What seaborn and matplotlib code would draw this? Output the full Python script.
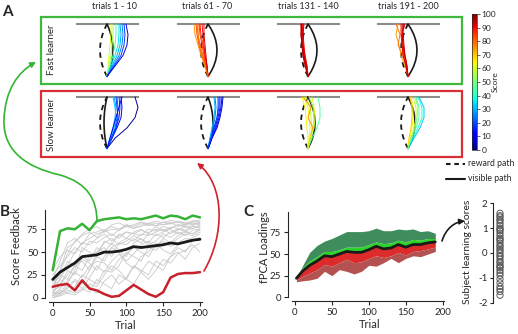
import numpy as np
import pandas as pd
import matplotlib
matplotlib.use("Agg")
import matplotlib.pyplot as plt
import seaborn as sns
from matplotlib.patches import Rectangle, FancyArrowPatch
from matplotlib.path import Path

sns.set_theme(style="ticks", rc={"axes.linewidth": 0.8, "xtick.major.width": 0.8,
                                 "ytick.major.width": 0.8, "xtick.major.size": 3,
                                 "ytick.major.size": 3, "axes.unicode_minus": False})
plt.rcParams["font.family"] = ["Lato", "DejaVu Sans"]

# ---- panel A : reaching paths, offsets (px) at fractions of path height
LEVELS = [0, 0.2, 0.4, 0.6, 0.8, 1.0]
BLOCK_TITLES = ["trials 1 - 10", "trials 61 - 70", "trials 131 - 140", "trials 191 - 200"]

FAST_SCORES = [[62, 55, 45, 35, 30, 25, 18, 8],
               [75, 80, 85, 88, 90, 83, 92, 78],
               [92, 95, 90, 94, 91, 96, 93],
               [74, 78, 90, 93, 88, 94, 91]]
FAST_X = [[[0, 1, 2, 3, 4, 4], [0, 2, 4, 5, 6, 6], [0, 3, 6, 8, 9, 9], [0, 4, 8, 11, 12, 12],
           [0, 5, 10, 13, 14, 13], [0, 6, 12, 15, 16, 15], [0, 7, 14, 17, 18, 17], [0, 8, 16, 20, 21, 19]],
          [[0, -3, -7, -10, -13, -14], [0, -2, -5, -8, -10, -11], [0, -2, -4, -6, -8, -9], [0, -1, -3, -5, -7, -8],
           [0, -1, -3, -4, -5, -6], [0, -2, -6, -9, -11, -12], [0, -1, -2, -3, -4, -4], [0, -3, -6, -8, -10, -10]],
          [[0, -2, -4, -5, -6, -6], [0, -2, -4, -6, -7, -7], [0, -1, -3, -4, -5, -5], [0, -2, -5, -6, -7, -6],
           [0, -1, -3, -5, -6, -5], [0, -3, -5, -6, -6, -7], [0, -2, -4, -5, -5, -4]],
          [[0, -3, -7, -9, -12, -10], [0, -2, -5, -10, -8, -12], [0, -2, -4, -5, -6, -6], [0, -1, -3, -5, -6, -4],
           [0, -2, -4, -6, -7, -7], [0, -1, -3, -4, -5, -5], [0, -2, -5, -6, -6, -3]]]

SLOW_SCORES = [[2, 10, 15, 22, 28, 33, 18, 12],
               [25, 20, 15, 10, 30, 8, 18],
               [62, 58, 65, 55, 75, 45, 60],
               [70, 65, 58, 45, 38, 32, 50]]
SLOW_X = [[[0, 8, 20, 28, 31, 28], [0, 5, 10, 14, 15, 14], [0, 4, 9, 12, 13, 12], [0, 4, 8, 10, 11, 10],
           [0, 3, 6, 8, 9, 7], [0, 3, 7, 9, 8, 6], [0, 5, 9, 11, 10, 9], [0, 3, 6, 9, 12, 15]],
          [[0, 2, 5, 7, 8, 7], [0, 3, 6, 9, 10, 10], [0, 3, 7, 10, 12, 12], [0, 4, 8, 11, 13, 14],
           [0, 2, 4, 6, 7, 6], [0, 4, 9, 12, 14, 15], [0, 3, 6, 9, 11, 11]],
          [[0, 1, 2, 1, 0, -4], [0, 2, 4, 3, 2, -2], [0, 0, -1, -2, -3, -6], [0, 3, 5, 6, 5, 1],
           [0, 2, 5, 0, 3, -5], [0, 4, 9, 12, 12, 10], [0, 2, 6, 7, 6, 4]],
          [[0, 1, 3, 4, 4, 2], [0, 2, 4, 5, 5, 3], [0, 3, 6, 8, 8, 5], [0, 4, 8, 11, 11, 8],
           [0, 5, 10, 14, 14, 10], [0, 6, 12, 16, 16, 11], [0, 3, 7, 9, 10, 7]]]

REWARD_BOW = -7
FAST_VISIBLE_BOW = [6, 9, 9, 9]
SLOW_VISIBLE_BOW = [-3, 5, 7, 7]
ARC_SHAPE = [0, 0.36, 0.64, 0.84, 0.96, 1, 0.96, 0.84, 0.64, 0.36, 0]
ARC_Y = [0, 0.1, 0.2, 0.3, 0.4, 0.5, 0.6, 0.7, 0.8, 0.9, 1.0]

# ---- panel B : score feedback
TRIALS = [0, 10, 20, 30, 40, 50, 60, 70, 80, 90, 100, 110, 120, 130, 140, 150, 160, 170, 180, 190, 200]
FAST_LEARNER = [30, 73, 76, 75, 81, 74, 84, 86, 87, 88, 86, 87, 86, 88, 90, 87, 90, 89, 86, 90, 88]
SLOW_LEARNER = [12, 14, 15, 8, 19, 10, 8, 4, 1, 2, 8, 14, 9, 4, 1, 6, 22, 26, 27, 27, 28]
MEAN_SCORE = [20, 28, 33, 38, 45, 46, 47, 50, 50, 51, 53, 56, 55, 56, 57, 58, 60, 59, 61, 63, 64]
GRAY = [
    [5, 20, 35, 50, 60, 65, 70, 72, 75, 74, 78, 76, 80, 79, 82, 80, 81, 83, 82, 84, 83],
    [10, 30, 55, 60, 70, 75, 78, 72, 80, 82, 78, 80, 83, 81, 84, 82, 85, 83, 80, 84, 85],
    [0, 5, 10, 20, 15, 30, 45, 40, 55, 60, 65, 62, 70, 68, 72, 75, 70, 74, 78, 76, 80],
    [15, 25, 20, 35, 40, 30, 50, 55, 45, 60, 58, 65, 60, 70, 68, 72, 75, 70, 73, 76, 78],
    [2, 8, 5, 12, 25, 20, 15, 30, 28, 35, 50, 45, 40, 55, 52, 60, 58, 65, 70, 68, 72],
    [20, 40, 60, 65, 58, 70, 72, 75, 68, 74, 80, 76, 78, 82, 79, 80, 83, 78, 81, 82, 80],
    [8, 12, 30, 25, 45, 40, 55, 50, 60, 52, 45, 60, 65, 58, 62, 70, 66, 72, 68, 74, 75],
    [0, 3, 8, 5, 10, 6, 20, 15, 10, 25, 20, 35, 30, 25, 40, 35, 45, 50, 42, 55, 60],
    [25, 35, 45, 55, 50, 62, 60, 66, 70, 65, 72, 70, 68, 75, 73, 78, 76, 80, 77, 79, 82],
    [5, 15, 25, 35, 42, 38, 30, 45, 55, 50, 40, 48, 58, 62, 55, 65, 60, 68, 72, 70, 74],
    [12, 20, 15, 30, 55, 50, 45, 62, 58, 70, 65, 72, 75, 70, 78, 74, 76, 80, 79, 82, 81],
    [0, 2, 5, 3, 8, 15, 12, 25, 35, 30, 20, 15, 28, 40, 35, 30, 45, 55, 50, 62, 65],
    [30, 45, 52, 48, 60, 58, 65, 70, 62, 68, 72, 70, 74, 71, 75, 73, 77, 76, 74, 78, 77],
    [3, 10, 18, 28, 22, 35, 40, 38, 30, 42, 48, 55, 50, 45, 58, 62, 56, 60, 65, 63, 66],
    [18, 22, 40, 35, 30, 45, 50, 60, 65, 58, 62, 68, 64, 60, 70, 66, 72, 75, 73, 70, 76],
    [6, 4, 12, 18, 10, 22, 35, 28, 40, 48, 38, 32, 45, 50, 60, 52, 48, 58, 62, 66, 70],
    [2, 6, 15, 8, 20, 12, 5, 18, 25, 15, 22, 35, 28, 20, 30, 42, 38, 48, 52, 58, 50],
    [10, 28, 48, 62, 68, 72, 66, 74, 78, 75, 80, 78, 82, 80, 79, 83, 81, 84, 82, 80, 83],
]

# ---- panel C : fPCA loadings
C_TRIALS = [2, 10, 20, 30, 40, 50, 60, 70, 80, 90, 100, 110, 120, 130, 140, 150, 160, 170, 180, 190]
C_MEAN = [22, 30, 37, 42, 48, 47, 50, 53, 52, 52, 55, 59, 56, 57, 61, 58, 61, 61, 63, 64]
C_UP1 = [23, 34, 42, 47, 53, 53, 55, 58, 58, 58, 61, 64, 62, 63, 66, 64, 67, 66, 68, 68]
C_UP2 = [22, 36, 52, 60, 65, 68, 72, 76, 76, 76, 77, 80, 77, 77, 79, 78, 79, 76, 77, 74]
C_LOW1 = [20, 24, 28, 32, 38, 36, 40, 44, 40, 41, 45, 48, 46, 48, 52, 49, 53, 54, 56, 58]
C_LOW2 = [18, 19, 20, 22, 30, 25, 32, 30, 27, 30, 37, 36, 40, 45, 40, 45, 48, 47, 50, 53]
LEARNING_SCORES = [1.6, 1.5, 1.45, 1.35, 1.3, 1.2, 1.1, 1.0, 0.95, 0.9, 0.8, 0.7, 0.6, 0.55,
                   0.5, 0.4, 0.3, 0.25, 0.15, 0.1, 0.0, -0.1, -0.15, -0.25, -0.35, -0.4, -0.5,
                   -0.55, -0.6, -0.7, -0.8, -0.9, -1.05, -1.2, -1.35, -1.45, -1.55, -1.7]

GREEN = "#36b336"
RED = "#c8202a"
W, H = 518, 334
cmap = plt.get_cmap("jet")

fig = plt.figure(figsize=(5.18, 3.34), dpi=100)


def px_axes(x0, y0, x1, y1):
    # axes from pixel box (top-left origin)
    return fig.add_axes([x0 / W, 1 - y1 / H, (x1 - x0) / W, (y1 - y0) / H])


def draw_block(ax, xs_list, scores, vis_bow, height):
    lev = np.array(LEVELS) * height
    ay = np.array(ARC_Y) * height
    ax.plot([-31, 32], [height, height], color="#8c8c8c", lw=1.5, solid_capstyle="butt")
    ax.plot(REWARD_BOW * np.array(ARC_SHAPE), ay, color="k", lw=1.3, ls=(0, (3, 2.5)))
    ax.plot(vis_bow * np.array(ARC_SHAPE), ay, color="k", lw=1.2)
    for xs, s in zip(xs_list, scores):
        ax.plot(xs, lev, color=cmap(s / 100), lw=0.7)
    ax.set_xlim(-35, 35)
    ax.set_ylim(-3, height + 3)
    ax.axis("off")


col_x = [107, 208, 308, 408]
rows = [(24, 76.5, FAST_X, FAST_SCORES, FAST_VISIBLE_BOW),
        (97, 148.5, SLOW_X, SLOW_SCORES, SLOW_VISIBLE_BOW)]
for top, start, X, S, bows in rows:
    hgt = start - top
    for i, sx in enumerate(col_x):
        ax = px_axes(sx - 35, top - 3, sx + 35, start + 3)
        draw_block(ax, X[i], S[i], bows[i], hgt)

# colorbar
cax = px_axes(471.7, 14, 477.3, 150)
sm = matplotlib.cm.ScalarMappable(cmap=cmap, norm=matplotlib.colors.Normalize(0, 100))
cb = fig.colorbar(sm, cax=cax, ticks=range(0, 101, 10))
cb.outline.set_linewidth(0.5)
cax.tick_params(labelsize=6, length=2, width=0.5, pad=1)
cax.text(4.2, 0.5, "Score", rotation=90, fontsize=6, ha="center", va="center", transform=cax.transAxes)

# ---- panel B
axB = px_axes(49.3, 210.1, 201.7, 297.7)
gray_df = pd.DataFrame({"trial": np.tile(TRIALS, len(GRAY)),
                        "score": np.concatenate(GRAY),
                        "subject": np.repeat(np.arange(len(GRAY)), len(TRIALS))})
sns.lineplot(data=gray_df, x="trial", y="score", units="subject", estimator=None,
             color="#c9c9c9", lw=0.6, ax=axB, legend=False)
sns.lineplot(x=TRIALS, y=FAST_LEARNER, color=GREEN, lw=1.8, ax=axB)
sns.lineplot(x=TRIALS, y=SLOW_LEARNER, color=RED, lw=1.8, ax=axB)
sns.lineplot(x=TRIALS, y=MEAN_SCORE, color="k", lw=2.0, ax=axB)
axB.set_xlim(-4.6, 202.3)
axB.set_ylim(0, 96)
axB.set_xticks([0, 50, 100, 150, 200])
axB.set_yticks([0, 25, 50, 75])
sns.despine(ax=axB, offset=3)
axB.tick_params(labelsize=7, pad=2)
axB.set_xlabel("Trial", fontsize=8, va="center")
axB.set_ylabel("Score Feedback", fontsize=8, va="center")
axB.xaxis.set_label_coords(0.503, -0.312)
axB.yaxis.set_label_coords(-0.212, 0.59)

# ---- panel C
axC = px_axes(292, 211.7, 444, 297.3)
axC.fill_between(C_TRIALS, C_UP1, C_UP2, color="#3f8d5d", lw=0)
axC.fill_between(C_TRIALS, C_MEAN, C_UP1, color="#2ad22a", lw=0)
axC.fill_between(C_TRIALS, C_LOW1, C_MEAN, color="#dd2b2b", lw=0)
axC.fill_between(C_TRIALS, C_LOW2, C_LOW1, color="#b45252", lw=0)
sns.lineplot(x=C_TRIALS, y=C_MEAN, color="k", lw=2.0, ax=axC)
axC.set_xlim(-4, 201.8)
axC.set_ylim(0, 99)
axC.set_xticks([0, 50, 100, 150, 200])
axC.set_yticks([0, 25, 50, 75])
sns.despine(ax=axC, offset=3)
axC.tick_params(labelsize=7, pad=2)
axC.set_xlabel("Trial", fontsize=8, va="center")
axC.set_ylabel("fPCA Loadings", fontsize=8, va="center")
axC.xaxis.set_label_coords(0.513, -0.319)
axC.yaxis.set_label_coords(-0.178, 0.588)

# subject learning scores strip
axS = px_axes(493, 203.3, 507, 302.7)
axS.scatter(np.zeros(len(LEARNING_SCORES)), LEARNING_SCORES, s=20, facecolors="none",
            edgecolors="0.35", linewidths=0.7)
axS.set_xlim(-1, 1)
axS.set_ylim(-2, 2)
axS.set_yticks([-2, -1, 0, 1, 2])
axS.set_xticks([])
sns.despine(ax=axS, bottom=True)
axS.tick_params(labelsize=7, pad=1.5, length=2.5)
axS.set_ylabel("Subject learning scores", fontsize=7.5, va="center")
axS.yaxis.set_label_coords(-1.79, 0.51)

# ---- overlay: boxes, arrows, text
ov = fig.add_axes([0, 0, 1, 1])
ov.set_xlim(0, W)
ov.set_ylim(H, 0)
ov.axis("off")
ov.patch.set_alpha(0)
ov.add_patch(Rectangle((41, 17), 421, 67, fill=False, ec="#3dba3d", lw=1.6))
ov.add_patch(Rectangle((41, 91), 421, 66, fill=False, ec="#d92e35", lw=1.6))
ov.text(52, 50, "Fast learner", rotation=90, fontsize=7, ha="center", va="center")
ov.text(52, 124, "Slow learner", rotation=90, fontsize=7, ha="center", va="center")
for sx, t in zip([115, 207, 308, 408], BLOCK_TITLES):
    ov.text(sx, 6.5, t, fontsize=6.5, ha="center", va="center")
ov.text(2, 12.5, "A", fontsize=11, fontweight="bold", ha="left", va="center")
ov.text(0, 212, "B", fontsize=11, fontweight="bold", ha="left", va="center")
ov.text(243, 212, "C", fontsize=11, fontweight="bold", ha="left", va="center")

ov.plot([446, 465], [164, 164], color="k", lw=1.5, ls=(0, (2.2, 1.8)))
ov.plot([446, 465], [179, 179], color="k", lw=1.5)
ov.text(468, 163.5, "reward path", fontsize=6.2, va="center")
ov.text(468, 178.5, "visible path", fontsize=6.2, va="center")

C3 = Path.CURVE4
green_path = Path([(97, 222), (97, 200), (88, 183), (60, 175), (25, 167), (3, 150), (4, 120),
                   (5, 90), (18, 72), (36, 62)], [Path.MOVETO] + [C3] * 9)
ov.add_patch(FancyArrowPatch(path=green_path, arrowstyle="-|>", mutation_scale=8,
                             color="#33b533", lw=1.2))
red_path = Path([(204, 271), (225, 235), (225, 185), (197, 163)], [Path.MOVETO] + [C3] * 3)
ov.add_patch(FancyArrowPatch(path=red_path, arrowstyle="-|>", mutation_scale=8,
                             color="#d0222c", lw=1.2))
black_path = Path([(442, 241), (446, 228), (455, 222), (465, 221)], [Path.MOVETO] + [C3] * 3)
ov.add_patch(FancyArrowPatch(path=black_path, arrowstyle="-|>", mutation_scale=8,
                             color="k", lw=1.2))

fig.savefig("out.png", dpi=100)
